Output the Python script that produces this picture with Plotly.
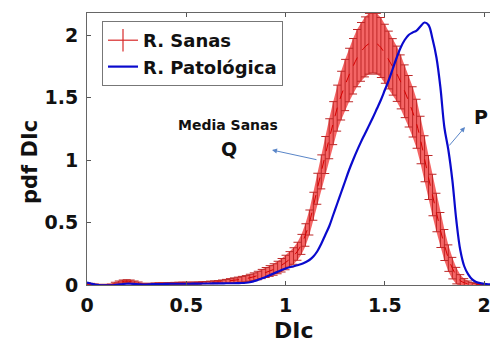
import plotly.graph_objects as go

# ---- data ----
x_grid = [0.00, 0.02, 0.04, 0.06, 0.08, 0.10, 0.12, 0.14, 0.16, 0.18,
          0.20, 0.22, 0.24, 0.26, 0.28, 0.30, 0.32, 0.34, 0.36, 0.38,
          0.40, 0.42, 0.44, 0.46, 0.48, 0.50, 0.52, 0.54, 0.56, 0.58,
          0.60, 0.62, 0.64, 0.66, 0.68, 0.70, 0.72, 0.74, 0.76, 0.78,
          0.80, 0.82, 0.84, 0.86, 0.88, 0.90, 0.92, 0.94, 0.96, 0.98,
          1.00, 1.02, 1.04, 1.06, 1.08, 1.10, 1.12, 1.14, 1.16, 1.18,
          1.20, 1.22, 1.24, 1.26, 1.28, 1.30, 1.32, 1.34, 1.36, 1.38,
          1.40, 1.42, 1.44, 1.46, 1.48, 1.50, 1.52, 1.54, 1.56, 1.58,
          1.60, 1.62, 1.64, 1.66, 1.68, 1.70, 1.72, 1.74, 1.76, 1.78,
          1.80, 1.82, 1.84, 1.86, 1.88, 1.90, 1.92, 1.94, 1.96, 1.98,
          2.00, 2.02, 2.04, 2.06]

sanas_mean = [0.010, 0.008, 0.003, 0.000, 0.000, 0.000, 0.003, 0.010, 0.020, 0.028,
              0.030, 0.028, 0.020, 0.012, 0.006, 0.005, 0.006, 0.008, 0.010, 0.010,
              0.010, 0.012, 0.013, 0.014, 0.015, 0.015, 0.015, 0.015, 0.016, 0.018,
              0.020, 0.021, 0.022, 0.024, 0.027, 0.030, 0.034, 0.038, 0.042, 0.046,
              0.050, 0.058, 0.066, 0.076, 0.088, 0.100, 0.112, 0.124, 0.140, 0.158,
              0.180, 0.205, 0.232, 0.270, 0.325, 0.400, 0.500, 0.630, 0.770, 0.905,
              1.040, 1.170, 1.295, 1.415, 1.515, 1.600, 1.680, 1.750, 1.815, 1.865,
              1.905, 1.930, 1.940, 1.930, 1.900, 1.850, 1.800, 1.745, 1.690, 1.625,
              1.550, 1.470, 1.385, 1.290, 1.160, 1.010, 0.860, 0.720, 0.580, 0.440,
              0.320, 0.215, 0.135, 0.075, 0.035, 0.018, 0.010, 0.005, 0.003, 0.002,
              0.001, 0.000, 0.000, 0.000]

sanas_std = [0.005, 0.005, 0.005, 0.005, 0.005, 0.005, 0.005, 0.012, 0.012, 0.012,
             0.012, 0.012, 0.012, 0.012, 0.008, 0.008, 0.008, 0.008, 0.008, 0.008,
             0.008, 0.008, 0.008, 0.008, 0.008, 0.008, 0.008, 0.008, 0.008, 0.008,
             0.008, 0.010, 0.011, 0.012, 0.013, 0.015, 0.017, 0.019, 0.021, 0.023,
             0.025, 0.028, 0.031, 0.034, 0.037, 0.040, 0.043, 0.046, 0.050, 0.054,
             0.058, 0.062, 0.066, 0.072, 0.080, 0.090, 0.100, 0.112, 0.124, 0.136,
             0.148, 0.160, 0.172, 0.184, 0.195, 0.205, 0.214, 0.222, 0.229, 0.235,
             0.240, 0.243, 0.244, 0.243, 0.240, 0.236, 0.231, 0.226, 0.221, 0.216,
             0.211, 0.206, 0.201, 0.196, 0.190, 0.184, 0.176, 0.166, 0.154, 0.140,
             0.124, 0.106, 0.086, 0.066, 0.048, 0.033, 0.022, 0.014, 0.009, 0.006,
             0.004, 0.003, 0.002, 0.002]

patologica = [0.020, 0.012, 0.004, 0.000, -0.002, -0.003, -0.002, 0.000, 0.004, 0.008,
              0.010, 0.010, 0.008, 0.006, 0.004, 0.004, 0.006, 0.008, 0.008, 0.008,
              0.009, 0.010, 0.010, 0.010, 0.010, 0.010, 0.010, 0.011, 0.011, 0.012,
              0.012, 0.012, 0.013, 0.013, 0.013, 0.014, 0.014, 0.014, 0.015, 0.016,
              0.018, 0.022, 0.030, 0.040, 0.052, 0.064, 0.078, 0.092, 0.106, 0.120,
              0.132, 0.142, 0.150, 0.158, 0.168, 0.182, 0.200, 0.228, 0.270, 0.330,
              0.400, 0.470, 0.560, 0.650, 0.740, 0.830, 0.920, 1.000, 1.075, 1.145,
              1.210, 1.275, 1.340, 1.410, 1.480, 1.560, 1.640, 1.730, 1.820, 1.900,
              1.960, 2.000, 2.020, 2.035, 2.070, 2.100, 2.080, 1.970, 1.820, 1.580,
              1.260, 1.080, 0.840, 0.520, 0.280, 0.150, 0.085, 0.045, 0.025, 0.015,
              0.010, 0.006, 0.004, 0.003]

x_ticks = [0, 0.5, 1, 1.5, 2]
y_ticks = [0, 0.5, 1, 1.5, 2]
legend_names = ["R. Sanas", "R. Patológica"]

# ---- figure (page has an 8px body margin, so the figure is 8px smaller) ----
W, H = 490, 336
L, R, T, B = 79, 0, 5, 59
XMAX = 2.07
YMAX = (285 - 13) / 125.0
FONT = "DejaVu Sans, Liberation Sans, Arial, sans-serif"

# page-pixel -> paper helpers (plot area spans page x 87..498, y 13..285)
def px(x):
    return (x - 87) / 411.0

def py(y):
    return (285 - y) / 272.0

upper = [m + s for m, s in zip(sanas_mean, sanas_std)]
lower = [m - s for m, s in zip(sanas_mean, sanas_std)]

fig = go.Figure()
fig.add_trace(go.Scatter(x=x_grid, y=lower, mode="lines", line=dict(width=0),
                         showlegend=False, hoverinfo="skip"))
fig.add_trace(go.Scatter(x=x_grid, y=upper, mode="lines", line=dict(width=0),
                         fill="tonexty", fillcolor="rgba(242,80,80,0.88)",
                         showlegend=False, hoverinfo="skip"))
fig.add_trace(go.Scatter(x=x_grid, y=sanas_mean, mode="lines",
                         line=dict(color="rgb(215,0,0)", width=1, dash="dash", shape="spline"),
                         error_y=dict(type="data", array=sanas_std, visible=True,
                                      color="rgb(190,40,40)", thickness=1, width=4),
                         showlegend=False))
fig.add_trace(go.Scatter(x=x_grid, y=patologica, mode="lines",
                         line=dict(color="rgb(10,10,205)", width=2.2, shape="spline"),
                         showlegend=False))
# legend entries
fig.add_trace(go.Scatter(x=[None], y=[None], mode="lines+markers", name=legend_names[0],
                         line=dict(color="rgb(215,40,40)", width=1.2),
                         marker=dict(symbol="line-ns-open", size=16,
                                     line=dict(color="rgb(215,40,40)", width=1.2))))
fig.add_trace(go.Scatter(x=[None], y=[None], mode="lines", name=legend_names[1],
                         line=dict(color="rgb(10,10,205)", width=2.2)))

tickfont = dict(family=FONT, size=19, color="#111", weight="bold")

fig.update_xaxes(range=[0, XMAX], tickvals=x_ticks, ticktext=[str(v) for v in x_ticks],
                 ticks="inside", ticklen=4, tickcolor="#555", showline=True, linecolor="#666",
                 linewidth=1, mirror="ticks", showgrid=False, zeroline=False,
                 tickfont=tickfont, automargin=False, ticklabelstandoff=3)
fig.update_yaxes(range=[0, YMAX], tickvals=y_ticks, ticktext=[str(v) for v in y_ticks],
                 ticks="inside", ticklen=4, tickcolor="#555", showline=True, linecolor="#666",
                 linewidth=1, mirror="ticks", showgrid=False, zeroline=False,
                 tickfont=tickfont, automargin=False, ticklabelstandoff=4)

annfont = dict(family=FONT, color="#111", weight="bold")
# axis titles
fig.add_annotation(x=px(294), y=py(330), xref="paper", yref="paper", text="DIc",
                   xanchor="center", yanchor="middle",
                   showarrow=False, font=dict(size=22, **annfont))
fig.add_annotation(x=px(30), y=py(162), xref="paper", yref="paper", text="pdf DIc",
                   xanchor="center", yanchor="middle",
                   textangle=-90, showarrow=False, font=dict(size=21, **annfont))
# labels and arrows
fig.add_annotation(x=px(228), y=py(125), xref="paper", yref="paper", text="Media Sanas",
                   xanchor="center", yanchor="middle",
                   showarrow=False, font=dict(size=14, **annfont))
fig.add_annotation(x=px(229), y=py(149), xref="paper", yref="paper", text="Q",
                   xanchor="center", yanchor="middle",
                   showarrow=False, font=dict(size=19, **annfont))
fig.add_annotation(x=px(481), y=py(117), xref="paper", yref="paper", text="P",
                   xanchor="center", yanchor="middle",
                   showarrow=False, font=dict(size=19, **annfont))
fig.add_annotation(x=px(272), y=py(150), xref="paper", yref="paper", text="",
                   showarrow=True, ax=46, ay=10, arrowhead=2, arrowsize=1, arrowwidth=1,
                   arrowcolor="#5a86c8")
fig.add_annotation(x=px(465), y=py(127), xref="paper", yref="paper", text="",
                   showarrow=True, ax=-17, ay=20, arrowhead=2, arrowsize=1, arrowwidth=1,
                   arrowcolor="#5a86c8")

fig.update_layout(
    width=W, height=H, margin=dict(l=L, r=R, t=T, b=B, autoexpand=False),
    paper_bgcolor="white", plot_bgcolor="white",
    legend=dict(x=px(102), y=py(21), xanchor="left", yanchor="top",
                bgcolor="white", bordercolor="#777", borderwidth=1,
                font=dict(family=FONT, size=18, color="#111", weight="bold"),
                traceorder="normal", tracegroupgap=0, itemwidth=30),
)

fig.write_html("out.html")
